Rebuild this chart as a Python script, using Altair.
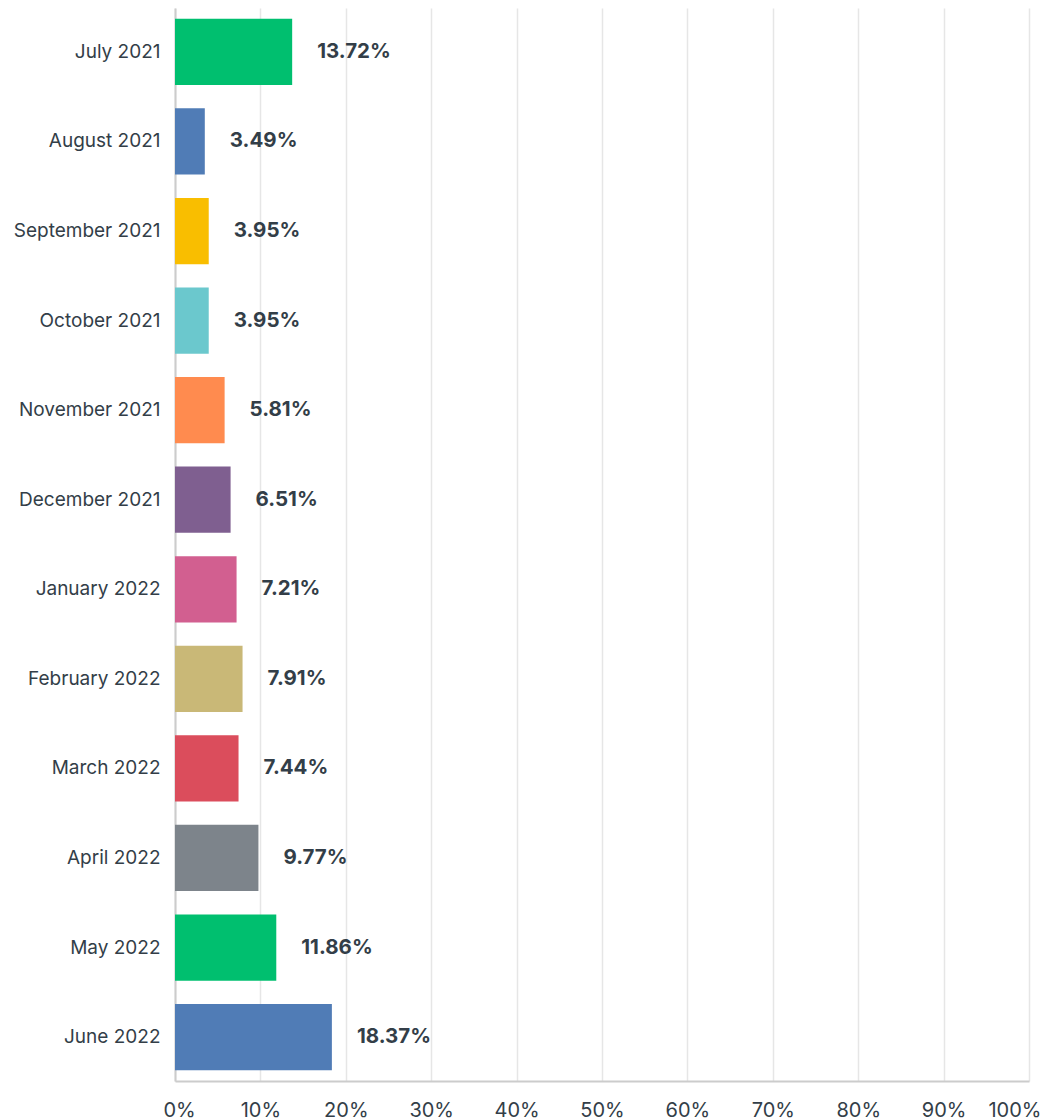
import altair as alt
import pandas as pd

months = ["July 2021", "August 2021", "September 2021", "October 2021", "November 2021",
          "December 2021", "January 2022", "February 2022", "March 2022", "April 2022",
          "May 2022", "June 2022"]
values = [13.72, 3.49, 3.95, 3.95, 5.81, 6.51, 7.21, 7.91, 7.44, 9.77, 11.86, 18.37]
colors = ["#00BF6F", "#507CB6", "#F9BE00", "#6BC8CD", "#FF8B4F", "#7F5F90",
          "#D25F90", "#C9B877", "#DB4D5C", "#7D848B", "#00BF6F", "#507CB6"]

df = pd.DataFrame({"month": months, "value": values, "color": colors,
                   "label": [f"{v:.2f}%" for v in values]})

FONT = "Inter"
TXT = "#333E48"

base = alt.Chart(df).encode(
    y=alt.Y("month:N", sort=months, title=None,
            scale=alt.Scale(paddingInner=0.26, paddingOuter=0.12),
            axis=alt.Axis(labelFont=FONT, labelFontSize=19, labelColor=TXT,
                          labelPadding=15, ticks=False, domain=True,
                          domainColor="#CCCCCC", domainWidth=2, grid=False)),
)

bars = base.mark_bar().encode(
    x=alt.X("value:Q", title=None,
            scale=alt.Scale(domain=[0, 100]),
            axis=alt.Axis(values=list(range(0, 101, 10)),
                          labelExpr="datum.value + '%'",
                          labelFont=FONT, labelFontSize=20, labelColor=TXT,
                          labelPadding=19, labelFlush=True, labelFlushOffset=12,
                          ticks=False, domainColor="#CCCCCC",
                          domainWidth=2, gridColor="#E6E6E6", gridWidth=1.5)),
    color=alt.Color("color:N", scale=None),
)

text = base.mark_text(align="left", baseline="middle", dx=25, font=FONT,
                      fontSize=20.5, fontWeight="bold", color=TXT).encode(
    x="value:Q", text="label:N")

chart = (bars + text).properties(
    width=854, height=1073,
    autosize=alt.AutoSizeParams(type="none"),
    padding={"left": 167, "top": 0, "right": 12, "bottom": 40},
).configure_view(stroke=None)

chart.save("out.html", embed_options={"renderer": "svg", "actions": False})
